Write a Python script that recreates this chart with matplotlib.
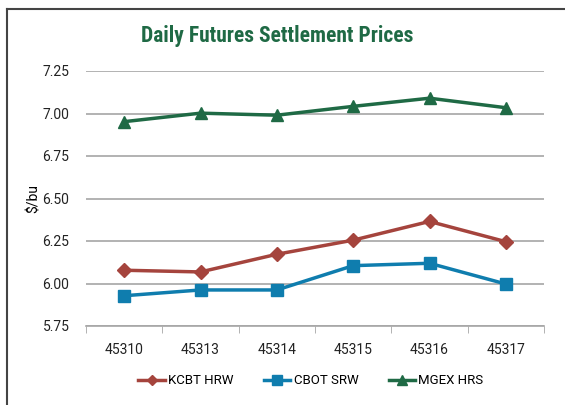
import matplotlib
matplotlib.use("Agg")
import matplotlib.pyplot as plt
from matplotlib.lines import Line2D

dates = ["45310", "45313", "45314", "45315", "45316", "45317"]
kcbt_hrw = [6.078, 6.068, 6.172, 6.255, 6.365, 6.246]
cbot_srw = [5.928, 5.962, 5.962, 6.105, 6.119, 5.997]
mgex_hrs = [6.952, 7.002, 6.990, 7.042, 7.090, 7.034]
yticks = [5.75, 6.00, 6.25, 6.50, 6.75, 7.00, 7.25]

red = '#A5443D'
blue = '#0F7DAE'
green = '#1F6A45'
grid_c = '#A6A6A6'

plt.rcParams['font.family'] = ['Roboto', 'DejaVu Sans']

fig = plt.figure(figsize=(5.65, 4.05), dpi=100)
W, H = 565, 405
ax = fig.add_axes([86/W, 1-326/H, (544-86)/W, (326-71)/H])

x = list(range(len(dates)))
ax.plot(x, kcbt_hrw, color=red, lw=2.5, marker='D', ms=7, label='KCBT HRW')
ax.plot(x, cbot_srw, color=blue, lw=2.5, marker='s', ms=9, label='CBOT SRW')
ax.plot(x, mgex_hrs, color=green, lw=2.5, marker='^', ms=9, label='MGEX HRS')

ax.set_xlim(-0.5, len(dates)-0.5)
ax.set_ylim(5.75, 7.25)
ax.set_yticks(yticks)
ax.set_yticklabels(['%.2f' % v for v in yticks])
ax.set_xticks(x)
ax.set_xticklabels(dates)
ax.set_xticks([i - 0.5 for i in range(len(dates)+1)], minor=True)
ax.tick_params(axis='x', which='major', length=0, pad=12, labelsize=10, colors='#222222')
ax.tick_params(axis='x', which='minor', length=5, color=grid_c)
ax.tick_params(axis='y', length=0, pad=12, labelsize=10, colors='#222222')
ax.yaxis.grid(True, color=grid_c, lw=1.2)
ax.set_axisbelow(True)
for s in ['top', 'right', 'left']:
    ax.spines[s].set_visible(False)
ax.spines['bottom'].set_color(grid_c)
ax.spines['bottom'].set_linewidth(1.2)
ax.set_ylabel('$/bu', fontsize=10, labelpad=4)
ax.yaxis.set_label_coords(-0.098, 0.5)

fig.text(277/W, 1-36/H, 'Daily Futures Settlement Prices', ha='center', va='center',
         fontsize=15.5, fontweight='bold', color=green, family=['Roboto Condensed', 'Roboto'])

fig.legend(loc='center', bbox_to_anchor=(311/W, 1-381/H), ncol=3, frameon=False,
           fontsize=9.5, handlelength=2.0, columnspacing=2.3, handletextpad=0.25,
           markerscale=0.8)

# outer frame (left and top only visible)
fig.add_artist(Line2D([7/W, 7/W], [0, 1-9/H], transform=fig.transFigure, color='#444444', lw=1.5))
fig.add_artist(Line2D([7/W, 1], [1-9/H, 1-9/H], transform=fig.transFigure, color='#444444', lw=1.5))

fig.savefig('out.png', dpi=100)
